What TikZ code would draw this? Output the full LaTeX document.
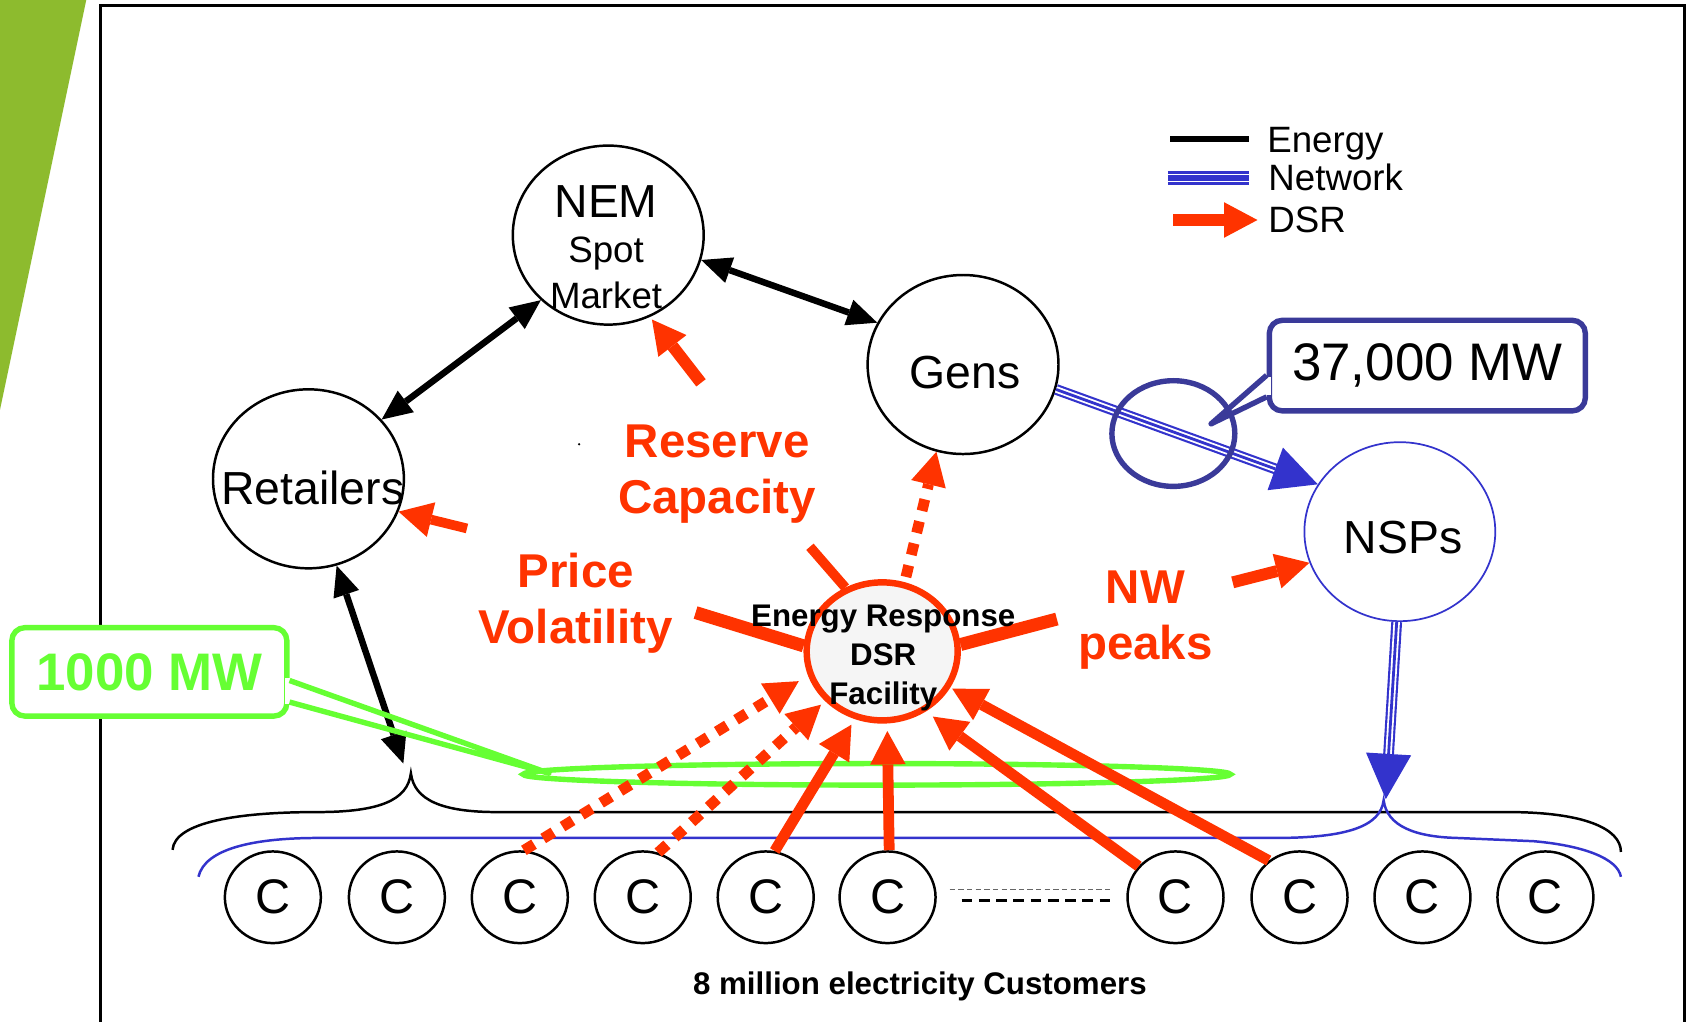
\documentclass[tikz,border=0pt]{standalone}
\usepackage{fontspec}
\setmainfont{Liberation Sans}
\usetikzlibrary{arrows.meta,shapes.geometric,calc}

\definecolor{dsrred}{RGB}{255,51,0}
\definecolor{netblue}{RGB}{51,51,204}
\definecolor{tagblue}{RGB}{58,58,153}
\definecolor{loadgreen}{RGB}{102,255,51}
\definecolor{slidegreen}{RGB}{141,187,46}
\definecolor{facility}{RGB}{245,245,245}

\begin{document}
\begin{tikzpicture}[x=1pt, y=-1pt, inner sep=0pt,
  font=\fontsize{34}{42}\selectfont,
  hub/.style={draw=black, ellipse, line width=2.3pt, minimum width=177pt, minimum height=166pt},
  cust/.style={draw=black, ellipse, line width=2.3pt, minimum width=89pt, minimum height=85pt, font=\fontsize{45}{45}\selectfont},
  big/.style={font=\fontsize{43}{43}\selectfont},
  energy/.style={line width=6pt, {Triangle[width=25pt,length=28pt,line width=0pt]}-{Triangle[width=25pt,length=28pt,line width=0pt]}},
  netshaft/.style={draw=netblue, line width=10pt, postaction={draw=white, line width=6pt}},
  nethead/.style={draw=netblue, line width=2.6pt, -{Triangle[width=42pt,length=42pt,line width=0pt]}},
  dsr/.style={draw=dsrred, line width=11pt, -{Triangle[width=33pt,length=31pt,line width=0pt]}},
  dsrdot/.style={dsr, dash pattern=on 11pt off 10pt},
  spoke/.style={draw=dsrred, line width=11pt},
  lab/.style={text=dsrred, font=\bfseries\fontsize{44}{52}\selectfont, align=center},
  tag/.style={rounded corners=12pt, line width=5pt, fill=white},
]
\useasboundingbox (0,0) rectangle (1568,947);
% slide corner and frame
\fill[slidegreen] (0,0) -- (80,0) -- (0,380) -- cycle;
\draw[line width=2.5pt] (93,5) rectangle (1562,1000);

% braces over the customers
\draw[line width=2.3pt] (160,788) .. controls (162,762) and (222,753) .. (294,753)
  .. controls (352,753) and (378,742) .. (381,717)
  .. controls (384,742) and (410,753) .. (461,753) -- (1398,753)
  .. controls (1468,753) and (1503,768) .. (1503,790);
\draw[netblue, line width=2.3pt] (184,813) .. controls (190,787) and (235,777) .. (295,777) -- (1182,777)
  .. controls (1250,777) and (1280,766) .. (1283,742)
  .. controls (1286,766) and (1312,776) .. (1351,777) -- (1422,780)
  .. controls (1468,784) and (1500,796) .. (1503,813);

% market players
\node[hub] (nem) at (564,218) {};
\node[hub] (gens) at (893,338) {};
\node[hub] (ret) at (286,444) {};
\node[hub, draw=netblue, line width=1.6pt] (nsp) at (1298,493) {};
\node[align=center] (nemtxt) at (562,229) {{\fontsize{43}{43}\selectfont NEM}\\Spot\\Market};
\node[big] (genstxt) at (895,345) {Gens};
\node[big] (rettxt) at (290,452) {Retailers};
\node[big] (nsptxt) at (1301,498) {NSPs};

% customers
\foreach \x [count=\i] in {253,368,482,596,710,823,1090,1205,1319,1433}
  \node[cust] (c\i) at (\x,832) {C};
\draw[black!60, line width=1.2pt, dash pattern=on 5pt off 3pt] ([xshift=12pt,yshift=7pt]c6.east) -- ([xshift=-13pt,yshift=7pt]c7.west);
\draw[line width=2pt, dash pattern=on 10pt off 6pt] ([xshift=23pt,yshift=-3pt]c6.east) -- ([xshift=-11pt,yshift=-3pt]c7.west);
\node[font=\bfseries\fontsize{29}{29}\selectfont] (custtxt) at (853,915) {8 million electricity Customers};

% DSR facility and the 1000 MW block
\node[draw=dsrred, fill=facility, ellipse, line width=6pt, minimum width=140pt, minimum height=128pt] (dsr) at (818,604) {};
\node[draw=loadgreen, ellipse, line width=5pt, minimum width=656pt, minimum height=20pt] (block) at (813,718) {};

% energy flows
\coordinate (retbrace) at (374,708);
\draw[energy] (ret.39) -- (nem.224);
\draw[energy] (nem.-15) -- (gens.154);
\draw[energy] (ret.-72) -- (retbrace);

% 1000 MW tag
\node[tag, draw=loadgreen, text=loadgreen, font=\bfseries\fontsize{49}{49}\selectfont, minimum width=255pt, minimum height=82pt] (kw) at (138.5,623) {1000 MW};
\coordinate (kwtip) at (509,717);
\fill[white] ([xshift=-4pt,yshift=-6pt]kw.east) rectangle ([xshift=4pt,yshift=-30pt]kw.east);
\draw[loadgreen, line width=5pt, line join=round] ([yshift=-8pt]kw.east) -- (kwtip) -- ([yshift=-28pt]kw.east);

% network flows
\coordinate (nspbrace) at (1285,741);
\draw[netshaft, shorten >=38pt] (gens.-15) -- (nsp.150);
\draw[nethead] (gens.-15) -- (nsp.150);
\draw[netshaft, shorten >=38pt] (nsp.-92) -- (nspbrace);
\draw[nethead] (nsp.-92) -- (nspbrace);

% 37,000 MW tag
\node[draw=tagblue, ellipse, line width=5pt, minimum width=114pt, minimum height=98pt] (ring) at (1088,402) {};
\node[tag, draw=tagblue, font=\fontsize{49}{49}\selectfont, minimum width=293pt, minimum height=84pt] (mw) at (1323.5,339) {37,000 MW};
\coordinate (mwtip) at (1123,393);
\fill[white] ([xshift=-4pt,yshift=-11pt]mw.west) rectangle ([xshift=4pt,yshift=-27pt]mw.west);
\draw[tagblue, line width=5pt, line join=round] ([yshift=-9pt]mw.west) -- (mwtip) -- ([yshift=-29pt]mw.west);

% DSR flows
\coordinate (nemsrc) at (650,355);
\coordinate (retsrc) at (433,490);
\coordinate (nspsrc) at (1143,540);
\draw[dsr, shorten >=3pt] (nemsrc) -- (nem.-63);
\draw[dsr, line width=9pt] (retsrc) -- (ret.-20);
\draw[dsr] (nspsrc) -- (nsp.199);
\draw[dsrdot, line width=10pt, shorten <=5pt] (dsr.72) -- (gens.-107);
\draw[dsrdot, line width=10pt, shorten >=10pt] (c3.85) -- (dsr.198);
\draw[dsrdot, line width=10pt, shorten >=5pt] (c4.71) -- (dsr.221);
\draw[dsr, line width=10pt, shorten >=6pt] (c5.79) -- (dsr.248);
\draw[dsr, line width=10pt, shorten >=7pt] (c6.88) -- (dsr.-86);
\draw[dsr, line width=10pt, shorten >=8pt] (c7.140) -- (dsr.-54);
\draw[dsr, line width=10pt, shorten >=2pt] (c8.130) -- (dsr.-28);

% spokes to the drivers
\coordinate (rcend) at (751,507);
\coordinate (pvend) at (645,568);
\coordinate (nwend) at (980,574);
\draw[spoke, line width=9pt] (dsr.120) -- (rcend);
\draw[spoke, line width=12pt] (dsr.176) -- (pvend);
\draw[spoke, line width=12pt] (dsr.5) -- (nwend);

\node[lab] (rc) at (665,440) {Reserve\\Capacity};
\node[lab] (pv) at (534,559) {Price\\Volatility};
\node[lab] (nw) at (1062,575) {NW\\peaks};
\node[align=center, font=\bfseries\fontsize{29}{36}\selectfont] (dsrtxt) at (819,610) {Energy Response\\DSR\\Facility};
\fill (537,412) circle (1.2pt);

% legend
\draw[line width=5pt] (1085,129) -- (1158,129);
\draw[netblue, line width=13pt] (1083,165) -- (1158,165);
\draw[white, line width=8pt] (1083,165) -- (1158,165);
\draw[netblue, line width=5pt] (1083,165) -- (1158,165);
\draw[dsr] (1088,204) -- (1166,204);
\node[anchor=base west] (lgenergy) at (1175,141) {Energy};
\node[anchor=base west] (lgnet) at (1176,177) {Network};
\node[anchor=base west] (lgdsr) at (1176,216) {DSR};
\end{tikzpicture}
\end{document}
